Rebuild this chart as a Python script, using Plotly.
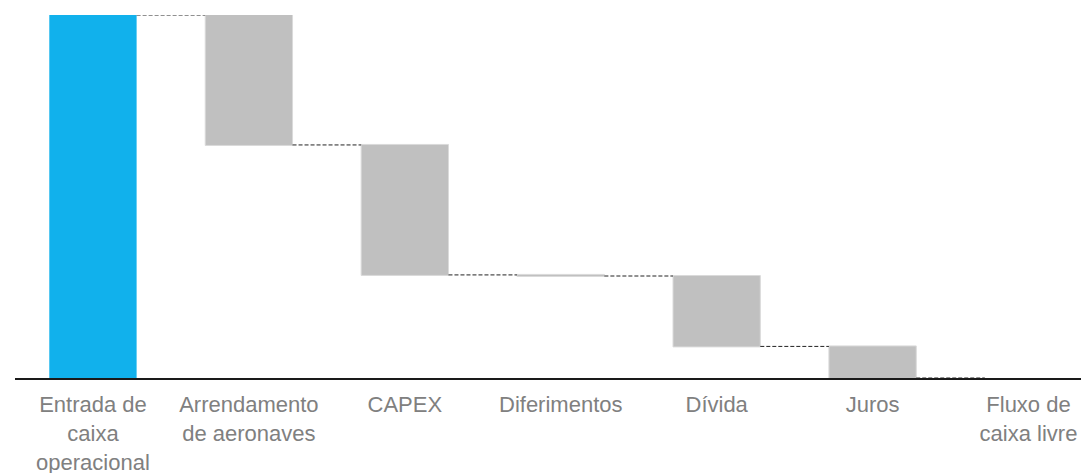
import plotly.graph_objects as go

categories = ["Entrada de<br>caixa<br>operacional", "Arrendamento<br>de aeronaves", "CAPEX",
              "Diferimentos", "Dívida", "Juros", "Fluxo de<br>caixa livre"]
values = [100, -35.8, -35.8, -0.3, -19.4, -8.7, 0]
measures = ["absolute", "relative", "relative", "relative", "relative", "relative", "total"]

BLUE = "#11B1EC"
GRAY = "#C0C0C0"

fig = go.Figure(go.Waterfall(
    x=categories,
    y=values,
    measure=measures,
    totals=dict(marker=dict(color=BLUE, line=dict(color=BLUE, width=0))),
    decreasing=dict(marker=dict(color=GRAY, line=dict(color="#DADADA", width=1))),
    increasing=dict(marker=dict(color=GRAY, line=dict(color="#DADADA", width=1))),
    connector=dict(mode="between", line=dict(color="#222222", width=1, dash="4px,2px")),
    textposition="none",
    hoverinfo="x+y",
    cliponaxis=False,
))

# page body has an 8px margin; size and margins compensate so the plot lands where the reference has it
fig.update_layout(
    width=1081, height=473,
    margin=dict(l=6.5, r=0, t=7, b=103, autoexpand=False),
    paper_bgcolor="white", plot_bgcolor="white",
    waterfallgap=0.44,
    showlegend=False,
    font=dict(family="Liberation Sans, Arial, sans-serif", size=22, color="#808080"),
)
fig.update_xaxes(
    range=[-0.5, 6.388],
    showline=True, linecolor="#1A1A1A", linewidth=2,
    layer="above traces",
    showgrid=False, zeroline=False, ticks="",
    automargin=False,
    ticklabelstandoff=6,
    tickfont=dict(size=22, color="#808080"),
)
fig.update_yaxes(range=[0, 100], visible=False, showgrid=False, zeroline=False)

fig.write_html("out.html")
